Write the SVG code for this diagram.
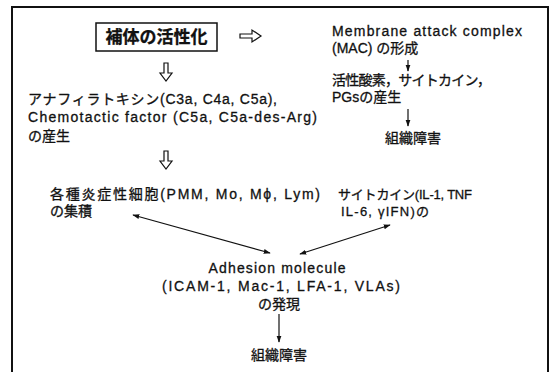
<svg xmlns="http://www.w3.org/2000/svg" width="553" height="372" viewBox="0 0 553 372">
<defs>
<marker id="ah" viewBox="0 0 10 10" refX="9" refY="5" markerWidth="7" markerHeight="7" orient="auto-start-reverse" markerUnits="userSpaceOnUse">
<path d="M0,1.5 L10,5 L0,8.5 Z" fill="#111"/>
</marker>
<style>
text{font-family:"Liberation Sans","Noto Sans CJK JP",sans-serif;font-size:14px;fill:#111;stroke:#111;stroke-width:0.3}
.b{font-weight:bold;font-size:17px}
.s{font-size:13px}
.c{text-anchor:middle}
.ln{stroke:#111;stroke-width:1.2;fill:none}
.ho{stroke:#111;stroke-width:1.2;fill:#fff;stroke-linejoin:miter}
</style>
</defs>
<rect width="553" height="372" fill="#fff"/>
<path d="M12,372 V7 H548 V372" fill="none" stroke="#111" stroke-width="2"/>

<g id="activation">
<rect x="96" y="23" width="121" height="28" fill="#fff" stroke="#111" stroke-width="1.5"/>
<text class="b c" x="156.5" y="43">補体の活性化</text>
</g>

<g id="mac">
<text x="332" y="36" textLength="190" lengthAdjust="spacing">Membrane attack complex</text>
<text x="332" y="53">(MAC) の形成</text>
</g>

<g id="ros">
<text x="332" y="85" textLength="159" lengthAdjust="spacing">活性酸素，サイトカイン，</text>
<text x="332" y="102">PGsの産生</text>
</g>

<g id="damage1">
<text x="385" y="143">組織障害</text>
</g>

<g id="anaphylatoxin">
<text x="28" y="104" textLength="249" lengthAdjust="spacing">アナフィラトキシン(C3a, C4a, C5a),</text>
<text x="28" y="122" textLength="289" lengthAdjust="spacing">Chemotactic factor (C5a, C5a-des-Arg)</text>
<text x="28" y="141">の産生</text>
</g>

<g id="cells">
<text x="50" y="199" textLength="270" lengthAdjust="spacing">各種炎症性細胞(PMM, Mo, Mϕ, Lym)</text>
<text x="50" y="216">の集積</text>
</g>

<g id="cytokine">
<text class="s" x="338" y="199" textLength="134" lengthAdjust="spacing">サイトカイン(IL-1, TNF</text>
<text class="s" x="341" y="216" textLength="88" lengthAdjust="spacing">IL-6, γIFN)の</text>
</g>

<g id="adhesion">
<text class="c" x="277" y="273" textLength="137" lengthAdjust="spacing">Adhesion molecule</text>
<text class="c" x="281" y="291" textLength="238" lengthAdjust="spacing">(ICAM-1, Mac-1, LFA-1, VLAs)</text>
<text class="c" x="279" y="309">の発現</text>
</g>

<g id="damage2">
<text class="c" x="279" y="360">組織障害</text>
</g>

<g id="connectors">
<path class="ho" d="M240,34 H252 V30 L261,36 L252,42 V38 H240 Z"/>
<path class="ho" d="M164,63 V73 H160 L166,81 L172,73 H168 V63 Z"/>
<path class="ho" d="M164,151 V161 H160 L166,169 L172,161 H168 V151 Z"/>
<line class="ln" x1="408" y1="60" x2="408" y2="71" marker-end="url(#ah)"/>
<line class="ln" x1="408" y1="109" x2="408" y2="126" marker-end="url(#ah)"/>
<line class="ln" x1="133" y1="215" x2="270" y2="253" marker-start="url(#ah)" marker-end="url(#ah)"/>
<line class="ln" x1="390" y1="225" x2="300" y2="254" marker-start="url(#ah)" marker-end="url(#ah)"/>
<line class="ln" x1="279" y1="314" x2="279" y2="342" marker-end="url(#ah)"/>
</g>
</svg>
